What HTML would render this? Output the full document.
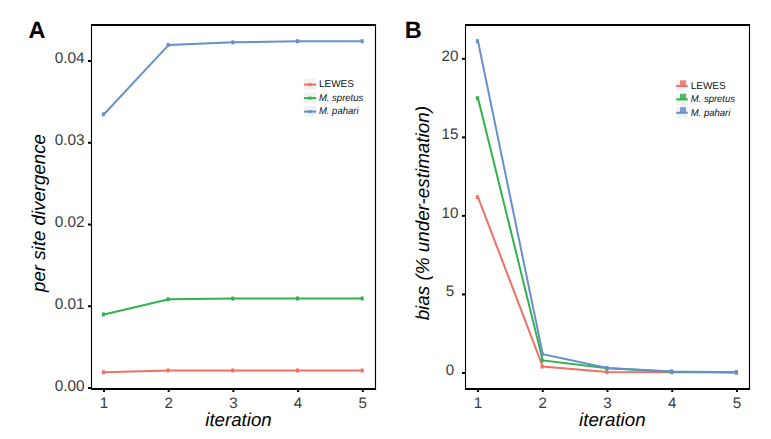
<!DOCTYPE html>
<html><head><meta charset="utf-8"><style>
html,body{margin:0;padding:0;background:#fff;width:771px;height:439px;overflow:hidden}
svg{display:block;font-family:"Liberation Sans",sans-serif;text-rendering:geometricPrecision}
</style></head><body>
<svg width="771" height="439" viewBox="0 0 771 439">
<rect width="771" height="439" fill="#fff"/>
<line x1="91" y1="25" x2="376" y2="25" stroke="#000" stroke-width="2"/>
<line x1="91.5" y1="24" x2="91.5" y2="389" stroke="#000" stroke-width="1.1"/>
<line x1="375.5" y1="24" x2="375.5" y2="390" stroke="#000" stroke-width="1.15"/>
<line x1="91" y1="389" x2="376" y2="389" stroke="#000" stroke-width="2"/>
<line x1="88" y1="388.0" x2="91" y2="388.0" stroke="#000" stroke-width="2"/>
<text x="69.7" y="391.2" font-size="15.4" text-anchor="middle" fill="#3c3c3c" font-weight="normal" font-style="normal" >0.00</text>
<line x1="88" y1="306.25" x2="91" y2="306.25" stroke="#000" stroke-width="2"/>
<text x="69.7" y="308.75" font-size="15.4" text-anchor="middle" fill="#3c3c3c" font-weight="normal" font-style="normal" >0.01</text>
<line x1="88" y1="224.5" x2="91" y2="224.5" stroke="#000" stroke-width="2"/>
<text x="69.7" y="226.9" font-size="15.4" text-anchor="middle" fill="#3c3c3c" font-weight="normal" font-style="normal" >0.02</text>
<line x1="88" y1="142.75" x2="91" y2="142.75" stroke="#000" stroke-width="2"/>
<text x="69.7" y="145.05" font-size="15.4" text-anchor="middle" fill="#3c3c3c" font-weight="normal" font-style="normal" >0.03</text>
<line x1="88" y1="61.0" x2="91" y2="61.0" stroke="#000" stroke-width="2"/>
<text x="69.7" y="63.2" font-size="15.4" text-anchor="middle" fill="#3c3c3c" font-weight="normal" font-style="normal" >0.04</text>
<line x1="104.0" y1="389" x2="104.0" y2="392" stroke="#000" stroke-width="2"/>
<text x="104.0" y="408.2" font-size="15.2" text-anchor="middle" fill="#3c3c3c" font-weight="normal" font-style="normal" >1</text>
<line x1="168.7" y1="389" x2="168.7" y2="392" stroke="#000" stroke-width="2"/>
<text x="168.7" y="408.2" font-size="15.2" text-anchor="middle" fill="#3c3c3c" font-weight="normal" font-style="normal" >2</text>
<line x1="233.4" y1="389" x2="233.4" y2="392" stroke="#000" stroke-width="2"/>
<text x="233.4" y="408.2" font-size="15.2" text-anchor="middle" fill="#3c3c3c" font-weight="normal" font-style="normal" >3</text>
<line x1="298.1" y1="389" x2="298.1" y2="392" stroke="#000" stroke-width="2"/>
<text x="298.1" y="408.2" font-size="15.2" text-anchor="middle" fill="#3c3c3c" font-weight="normal" font-style="normal" >4</text>
<line x1="362.8" y1="389" x2="362.8" y2="392" stroke="#000" stroke-width="2"/>
<text x="362.8" y="408.2" font-size="15.2" text-anchor="middle" fill="#3c3c3c" font-weight="normal" font-style="normal" >5</text>
<text x="238.5" y="426" font-size="18.7" text-anchor="middle" fill="#000" font-weight="normal" font-style="italic" >iteration</text>
<text transform="translate(45.2,213) rotate(-90)" font-size="18.7" text-anchor="middle" font-style="italic" fill="#000">per site divergence</text>
<text x="37" y="37.6" font-size="23.5" text-anchor="middle" fill="#000" font-weight="bold" font-style="normal" >A</text>
<polyline points="104.00,372.30 168.70,370.51 233.40,370.51 298.10,370.51 362.80,370.51" fill="none" stroke="#F07068" stroke-width="2"/>
<rect x="101.90" y="370.30" width="3" height="4" fill="#F07068"/>
<rect x="166.60" y="368.51" width="3" height="4" fill="#F07068"/>
<rect x="231.30" y="368.51" width="3" height="4" fill="#F07068"/>
<rect x="296.00" y="368.51" width="3" height="4" fill="#F07068"/>
<rect x="360.70" y="368.51" width="3" height="4" fill="#F07068"/>
<polyline points="104.00,314.43 168.70,299.22 233.40,298.57 298.10,298.48 362.80,298.48" fill="none" stroke="#32B24C" stroke-width="2"/>
<rect x="101.90" y="312.43" width="3" height="4" fill="#32B24C"/>
<rect x="166.60" y="297.22" width="3" height="4" fill="#32B24C"/>
<rect x="231.30" y="296.57" width="3" height="4" fill="#32B24C"/>
<rect x="296.00" y="296.48" width="3" height="4" fill="#32B24C"/>
<rect x="360.70" y="296.48" width="3" height="4" fill="#32B24C"/>
<polyline points="104.00,114.30 168.70,44.90 233.40,42.36 298.10,41.22 362.80,41.22" fill="none" stroke="#6690CD" stroke-width="2"/>
<rect x="101.90" y="112.30" width="3" height="4" fill="#6690CD"/>
<rect x="166.60" y="42.90" width="3" height="4" fill="#6690CD"/>
<rect x="231.30" y="40.36" width="3" height="4" fill="#6690CD"/>
<rect x="296.00" y="39.22" width="3" height="4" fill="#6690CD"/>
<rect x="360.70" y="39.22" width="3" height="4" fill="#6690CD"/>
<rect x="303.9" y="78.90" width="12.2" height="11" fill="#f1f1f1"/>
<line x1="303.9" y1="84.60000000000001" x2="316.1" y2="84.60000000000001" stroke="#F07068" stroke-width="2"/>
<rect x="308.5" y="83.10" width="3" height="3" fill="#F07068"/>
<text x="0" y="0" font-size="10" text-anchor="start" fill="#111" font-weight="normal" font-style="normal" transform="translate(318.9,87.10)">LEWES</text>
<rect x="303.9" y="92.40" width="12.2" height="11" fill="#f1f1f1"/>
<line x1="303.9" y1="98.10000000000001" x2="316.1" y2="98.10000000000001" stroke="#32B24C" stroke-width="2"/>
<rect x="308.5" y="96.60" width="3" height="3" fill="#32B24C"/>
<text x="0" y="0" font-size="10" text-anchor="start" fill="#111" font-weight="normal" font-style="italic" transform="translate(318.9,100.60) scale(0.95,1)">M. spretus</text>
<rect x="303.9" y="105.90" width="12.2" height="11" fill="#f1f1f1"/>
<line x1="303.9" y1="111.60000000000001" x2="316.1" y2="111.60000000000001" stroke="#6690CD" stroke-width="2"/>
<rect x="308.5" y="110.10" width="3" height="3" fill="#6690CD"/>
<text x="0" y="0" font-size="10" text-anchor="start" fill="#111" font-weight="normal" font-style="italic" transform="translate(318.9,114.10) scale(0.95,1)">M. pahari</text>
<line x1="465" y1="25" x2="750" y2="25" stroke="#000" stroke-width="2"/>
<line x1="465.5" y1="24" x2="465.5" y2="390" stroke="#000" stroke-width="1.1"/>
<line x1="749.5" y1="24" x2="749.5" y2="390" stroke="#000" stroke-width="1.15"/>
<line x1="465" y1="389" x2="750" y2="389" stroke="#000" stroke-width="2"/>
<line x1="462" y1="373.0" x2="465" y2="373.0" stroke="#000" stroke-width="2"/>
<text x="450" y="375.0" font-size="15.2" text-anchor="middle" fill="#3c3c3c" font-weight="normal" font-style="normal" >0</text>
<line x1="462" y1="294.45" x2="465" y2="294.45" stroke="#000" stroke-width="2"/>
<text x="450" y="296.45" font-size="15.2" text-anchor="middle" fill="#3c3c3c" font-weight="normal" font-style="normal" >5</text>
<line x1="462" y1="215.89999999999998" x2="465" y2="215.89999999999998" stroke="#000" stroke-width="2"/>
<text x="450" y="217.89999999999998" font-size="15.2" text-anchor="middle" fill="#3c3c3c" font-weight="normal" font-style="normal" >10</text>
<line x1="462" y1="137.35" x2="465" y2="137.35" stroke="#000" stroke-width="2"/>
<text x="450" y="139.35" font-size="15.2" text-anchor="middle" fill="#3c3c3c" font-weight="normal" font-style="normal" >15</text>
<line x1="462" y1="58.799999999999955" x2="465" y2="58.799999999999955" stroke="#000" stroke-width="2"/>
<text x="450" y="60.799999999999955" font-size="15.2" text-anchor="middle" fill="#3c3c3c" font-weight="normal" font-style="normal" >20</text>
<line x1="478.0" y1="389" x2="478.0" y2="392" stroke="#000" stroke-width="2"/>
<text x="478.0" y="408.2" font-size="15.2" text-anchor="middle" fill="#3c3c3c" font-weight="normal" font-style="normal" >1</text>
<line x1="542.75" y1="389" x2="542.75" y2="392" stroke="#000" stroke-width="2"/>
<text x="542.75" y="408.2" font-size="15.2" text-anchor="middle" fill="#3c3c3c" font-weight="normal" font-style="normal" >2</text>
<line x1="607.5" y1="389" x2="607.5" y2="392" stroke="#000" stroke-width="2"/>
<text x="607.5" y="408.2" font-size="15.2" text-anchor="middle" fill="#3c3c3c" font-weight="normal" font-style="normal" >3</text>
<line x1="672.25" y1="389" x2="672.25" y2="392" stroke="#000" stroke-width="2"/>
<text x="672.25" y="408.2" font-size="15.2" text-anchor="middle" fill="#3c3c3c" font-weight="normal" font-style="normal" >4</text>
<line x1="737.0" y1="389" x2="737.0" y2="392" stroke="#000" stroke-width="2"/>
<text x="737.0" y="408.2" font-size="15.2" text-anchor="middle" fill="#3c3c3c" font-weight="normal" font-style="normal" >5</text>
<text x="612.3" y="426.4" font-size="18.7" text-anchor="middle" fill="#000" font-weight="normal" font-style="italic" >iteration</text>
<text transform="translate(429.1,213.2) rotate(-90)" font-size="18.85" text-anchor="middle" font-style="italic" fill="#000">bias (% under-estimation)</text>
<text x="413.3" y="37.9" font-size="23.5" text-anchor="middle" fill="#000" font-weight="bold" font-style="normal" >B</text>
<polyline points="478.00,197.21 542.75,366.56 607.50,372.06 672.25,372.21 737.00,372.53" fill="none" stroke="#F07068" stroke-width="2"/>
<rect x="475.90" y="195.21" width="3" height="4" fill="#F07068"/>
<rect x="540.65" y="364.56" width="3" height="4" fill="#F07068"/>
<rect x="605.40" y="370.06" width="3" height="4" fill="#F07068"/>
<rect x="670.15" y="370.21" width="3" height="4" fill="#F07068"/>
<rect x="734.90" y="370.53" width="3" height="4" fill="#F07068"/>
<polyline points="478.00,98.23 542.75,360.43 607.50,368.29 672.25,371.74 737.00,372.37" fill="none" stroke="#32B24C" stroke-width="2"/>
<rect x="475.90" y="96.23" width="3" height="4" fill="#32B24C"/>
<rect x="540.65" y="358.43" width="3" height="4" fill="#32B24C"/>
<rect x="605.40" y="366.29" width="3" height="4" fill="#32B24C"/>
<rect x="670.15" y="369.74" width="3" height="4" fill="#32B24C"/>
<rect x="734.90" y="370.37" width="3" height="4" fill="#32B24C"/>
<polyline points="478.00,41.20 542.75,354.15 607.50,367.97 672.25,371.43 737.00,372.37" fill="none" stroke="#6690CD" stroke-width="2"/>
<rect x="475.90" y="39.20" width="3" height="4" fill="#6690CD"/>
<rect x="540.65" y="352.15" width="3" height="4" fill="#6690CD"/>
<rect x="605.40" y="365.97" width="3" height="4" fill="#6690CD"/>
<rect x="670.15" y="369.43" width="3" height="4" fill="#6690CD"/>
<rect x="734.90" y="370.37" width="3" height="4" fill="#6690CD"/>
<rect x="676.3" y="80.30" width="11.4" height="11.4" fill="#f1f1f1"/>
<rect x="680" y="80.30" width="6" height="5.70" fill="#F07068" fill-opacity="0.85"/>
<line x1="676.3" y1="86.0" x2="687.7" y2="86.0" stroke="#F07068" stroke-width="2"/>
<text x="0" y="0" font-size="10" text-anchor="start" fill="#111" font-weight="normal" font-style="normal" transform="translate(690.7,89.00)">LEWES</text>
<rect x="676.3" y="93.70" width="11.4" height="11.4" fill="#f1f1f1"/>
<rect x="680" y="93.70" width="6" height="5.70" fill="#32B24C" fill-opacity="0.85"/>
<line x1="676.3" y1="99.4" x2="687.7" y2="99.4" stroke="#32B24C" stroke-width="2"/>
<text x="0" y="0" font-size="10" text-anchor="start" fill="#111" font-weight="normal" font-style="italic" transform="translate(690.7,102.40) scale(0.95,1)">M. spretus</text>
<rect x="676.3" y="107.10" width="11.4" height="11.4" fill="#f1f1f1"/>
<rect x="680" y="107.10" width="6" height="5.70" fill="#6690CD" fill-opacity="0.85"/>
<line x1="676.3" y1="112.8" x2="687.7" y2="112.8" stroke="#6690CD" stroke-width="2"/>
<text x="0" y="0" font-size="10" text-anchor="start" fill="#111" font-weight="normal" font-style="italic" transform="translate(690.7,115.80) scale(0.95,1)">M. pahari</text>
</svg></body></html>
